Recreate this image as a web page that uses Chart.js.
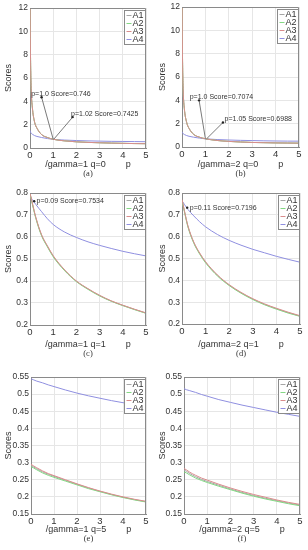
<!DOCTYPE html>
<html>
<head>
<meta charset="utf-8">
<script src="https://cdn.jsdelivr.net/npm/chart.js@4.4.1/dist/chart.umd.min.js"></script>
<style>
  body { margin: 0; background: #fff; }
  #wrap { position: relative; width: 308px; height: 550px; }
  canvas { position: absolute; }
</style>
</head>
<body>
<div id="wrap">
  <canvas id="pa" width="154" height="180" style="left:0;top:0"></canvas>
  <canvas id="pb" width="154" height="180" style="left:154px;top:0"></canvas>
  <canvas id="pc" width="154" height="180" style="left:0;top:180px"></canvas>
  <canvas id="pd" width="154" height="180" style="left:154px;top:180px"></canvas>
  <canvas id="pe" width="154" height="180" style="left:0;top:365px"></canvas>
  <canvas id="pf" width="154" height="180" style="left:154px;top:365px"></canvas>
</div>
<script>
const seriesNames = ['A1', 'A2', 'A3', 'A4'];
const seriesColors = ['#a6a6a6', '#84d884', '#d98c8c', '#8f8fe0'];

// p samples
const pSteep = [0.005, 0.02, 0.05, 0.1, 0.2, 0.3, 0.5, 0.75, 1, 1.5, 2, 2.5, 3, 3.5, 4, 4.5, 5];
const pSmooth = [0, 0.1, 0.25, 0.5, 0.75, 1, 1.5, 2, 2.5, 3, 3.5, 4, 4.5, 5];

// (a) gamma=1 q=0
const aSteep = [12, 8.2, 5.1, 3.5, 2.2, 1.7, 1.15, 0.9, 0.746, 0.61, 0.53, 0.48, 0.45, 0.42, 0.4, 0.38, 0.37];
const aFlat  = [1.5, 1.38, 1.27, 1.18, 1.06, 0.99, 0.9, 0.81, 0.7425, 0.68, 0.64, 0.61, 0.59, 0.57, 0.56, 0.55, 0.54];
// (b) gamma=2 q=0
const bSteep = [12, 8, 4.9, 3.3, 2.1, 1.6, 1.08, 0.84, 0.7074, 0.56, 0.48, 0.43, 0.39, 0.37, 0.35, 0.34, 0.33];
const bFlat  = [1.3, 1.22, 1.14, 1.07, 0.98, 0.92, 0.84, 0.76, 0.6988, 0.64, 0.6, 0.57, 0.55, 0.53, 0.515, 0.505, 0.5];
// (c) gamma=1 q=1
const cA1 = [0.798, 0.753, 0.688, 0.608, 0.558, 0.513, 0.448, 0.399, 0.364, 0.334, 0.309, 0.289, 0.271, 0.254];
const cA2 = [0.795, 0.75, 0.685, 0.605, 0.555, 0.51, 0.446, 0.397, 0.362, 0.332, 0.308, 0.288, 0.27, 0.253];
const cA3 = [0.8, 0.755, 0.69, 0.61, 0.56, 0.515, 0.45, 0.4, 0.365, 0.335, 0.31, 0.29, 0.272, 0.255];
const cA4 = [0.785, 0.77, 0.748, 0.715, 0.683, 0.657, 0.622, 0.598, 0.578, 0.562, 0.548, 0.535, 0.524, 0.514];
// (d) gamma=2 q=1
const dA1 = [0.768, 0.718, 0.648, 0.573, 0.523, 0.483, 0.423, 0.378, 0.343, 0.314, 0.29, 0.27, 0.252, 0.236];
const dA2 = [0.765, 0.715, 0.645, 0.57, 0.52, 0.48, 0.42, 0.376, 0.341, 0.312, 0.288, 0.268, 0.25, 0.235];
const dA3 = [0.77, 0.72, 0.65, 0.575, 0.525, 0.485, 0.425, 0.38, 0.345, 0.316, 0.292, 0.272, 0.254, 0.238];
const dA4 = [0.765, 0.748, 0.725, 0.695, 0.668, 0.645, 0.61, 0.583, 0.561, 0.542, 0.526, 0.51, 0.496, 0.483];
// (e) gamma=1 q=5
const eA1 = [0.292, 0.288, 0.282, 0.273, 0.266, 0.26, 0.248, 0.237, 0.226, 0.216, 0.207, 0.199, 0.192, 0.186];
const eA2 = [0.288, 0.285, 0.279, 0.27, 0.263, 0.257, 0.246, 0.235, 0.224, 0.215, 0.206, 0.198, 0.191, 0.185];
const eA3 = [0.295, 0.291, 0.285, 0.276, 0.268, 0.262, 0.25, 0.238, 0.227, 0.217, 0.208, 0.2, 0.193, 0.187];
const eA4 = [0.545, 0.542, 0.538, 0.533, 0.527, 0.522, 0.512, 0.503, 0.495, 0.488, 0.481, 0.475, 0.47, 0.465];
// (f) gamma=2 q=5
const fA1 = [0.278, 0.275, 0.268, 0.259, 0.251, 0.245, 0.234, 0.223, 0.213, 0.204, 0.196, 0.189, 0.182, 0.176];
const fA2 = [0.273, 0.27, 0.264, 0.255, 0.248, 0.242, 0.231, 0.221, 0.211, 0.202, 0.194, 0.187, 0.18, 0.174];
const fA3 = [0.283, 0.279, 0.272, 0.263, 0.255, 0.249, 0.237, 0.226, 0.216, 0.207, 0.199, 0.191, 0.184, 0.178];
const fA4 = [0.516, 0.513, 0.51, 0.505, 0.499, 0.494, 0.484, 0.476, 0.468, 0.461, 0.454, 0.447, 0.441, 0.435];

const FONT = '"Liberation Sans", Arial, sans-serif';

// box, legend, data tips and caption drawn on top of each panel
const extras = {
  id: 'extras',
  afterDraw(chart, args, opts) {
    const ctx = chart.ctx, a = chart.chartArea;
    const x = chart.scales.x, y = chart.scales.y;
    ctx.save();
    ctx.strokeStyle = '#8a8a8a';
    ctx.lineWidth = 1;
    ctx.beginPath();
    ctx.moveTo(Math.round(a.left), Math.round(a.top) + 0.5);
    ctx.lineTo(Math.round(a.right) - 0.5, Math.round(a.top) + 0.5);
    ctx.lineTo(Math.round(a.right) - 0.5, Math.round(a.bottom));
    ctx.stroke();

    // data tips
    (opts.tips || []).forEach(t => {
      const dx = x.getPixelForValue(t.dot[0]), dy = y.getPixelForValue(t.dot[1]);
      if (t.to) {
        ctx.strokeStyle = '#7a7a7a';
        ctx.beginPath();
        ctx.moveTo(dx, dy);
        ctx.lineTo(x.getPixelForValue(t.to[0]), y.getPixelForValue(t.to[1]));
        ctx.stroke();
      }
      ctx.fillStyle = '#222';
      ctx.beginPath();
      ctx.arc(dx, dy, 1.2, 0, Math.PI * 2);
      ctx.fill();
      ctx.font = '7px ' + FONT;
      ctx.textBaseline = 'middle';
      ctx.textAlign = 'left';
      ctx.fillStyle = '#333';
      ctx.fillText(t.text, x.getPixelForValue(t.at[0]), y.getPixelForValue(t.at[1]));
    });

    // legend
    const bw = 21, bh = 34;
    const bx = Math.round(a.right) - bw - 0.5, by = Math.round(a.top) + 2.5;
    ctx.fillStyle = '#fff';
    ctx.fillRect(bx, by, bw, bh);
    ctx.strokeStyle = '#8a8a8a';
    ctx.strokeRect(bx, by, bw, bh);
    ctx.font = '9px ' + FONT;
    ctx.textBaseline = 'middle';
    chart.data.datasets.forEach((ds, i) => {
      const ly = by + 5 + i * 8;
      ctx.strokeStyle = ds.borderColor;
      ctx.beginPath();
      ctx.moveTo(bx + 2, ly);
      ctx.lineTo(bx + 7, ly);
      ctx.stroke();
      ctx.fillStyle = '#333';
      ctx.fillText(ds.label, bx + 8, ly);
    });

    // caption
    ctx.font = '8.5px "Liberation Serif", serif';
    ctx.textAlign = 'center';
    ctx.fillStyle = '#333';
    ctx.fillText(opts.caption, (a.left + a.right) / 2, 173.5);
    ctx.restore();
  }
};

function makePanel(id, p, series, cfg) {
  const datasets = series.map((vals, i) => ({
    label: seriesNames[i],
    data: p.map((v, k) => ({ x: v, y: vals[k] })),
    borderColor: seriesColors[i],
    borderWidth: 1,
    pointRadius: 0,
    order: [3, 2, 1, 4][i],
    cubicInterpolationMode: 'monotone',
    fill: false
  }));
  new Chart(document.getElementById(id), {
    type: 'line',
    data: { datasets: datasets },
    plugins: [extras],
    options: {
      responsive: false,
      animation: false,
      layout: { padding: { top: cfg.top, right: 154 - cfg.right, left: 0, bottom: 0 } },
      plugins: {
        legend: { display: false },
        tooltip: { enabled: false },
        extras: { tips: cfg.tips, caption: cfg.caption }
      },
      scales: {
        x: {
          type: 'linear', min: 0, max: 5,
          ticks: { stepSize: 1, padding: 2, color: '#333', font: { size: 9.5, family: FONT }, maxRotation: 0 },
          grid: { color: '#e6e6e6', drawTicks: false },
          border: { color: '#8a8a8a' },
          title: { display: true, text: cfg.xlabel, color: '#333', font: { size: 9, family: FONT }, padding: { top: 0, bottom: 10 } },
          afterFit(s) { s.height = 180 - cfg.bottom; }
        },
        y: {
          min: cfg.yMin, max: cfg.yMax,
          ticks: {
            stepSize: cfg.yStep, padding: 2, color: '#333', font: { size: 8.5, family: FONT },
            callback: v => String(+v.toFixed(2))
          },
          grid: { color: '#e6e6e6', drawTicks: false },
          border: { color: '#8a8a8a' },
          title: { display: true, text: 'Scores', color: '#333', font: { size: 9, family: FONT }, padding: { top: 3, bottom: 0 } },
          afterFit(s) { s.width = cfg.left; }
        }
      }
    }
  });
}

makePanel('pa', pSteep, [aSteep, aSteep, aSteep, aFlat], {
  left: 30, right: 146, top: 8, bottom: 148, yMin: 0, yMax: 12, yStep: 2,
  xlabel: '/gamma=1 q=0        p', caption: '(a)',
  tips: [
    { dot: [0.5, 4.35], at: [0.05, 4.6], to: [1, 0.75], text: 'p=1.0 Score=0.746' },
    { dot: [1.84, 2.65], at: [1.77, 2.95], to: [1.02, 0.74], text: 'p=1.02 Score=0.7425' }
  ]
});
makePanel('pb', pSteep, [bSteep, bSteep, bSteep, bFlat], {
  left: 28, right: 145, top: 7, bottom: 147, yMin: 0, yMax: 12, yStep: 2,
  xlabel: '/gamma=2 q=0        p', caption: '(b)',
  tips: [
    { dot: [0.73, 4.0], at: [0.33, 4.3], to: [1, 0.71], text: 'p=1.0 Score=0.7074' },
    { dot: [1.75, 2.1], at: [1.82, 2.4], to: [1.05, 0.7], text: 'p=1.05 Score=0.6988' }
  ]
});
makePanel('pc', pSmooth, [cA1, cA2, cA3, cA4], {
  left: 30, right: 146, top: 13, bottom: 145, yMin: 0.2, yMax: 0.8, yStep: 0.1,
  xlabel: '/gamma=1 q=1        p', caption: '(c)',
  tips: [{ dot: [0.18, 0.763], at: [0.28, 0.763], text: 'p=0.09 Score=0.7534' }]
});
makePanel('pd', pSmooth, [dA1, dA2, dA3, dA4], {
  left: 28, right: 146, top: 13, bottom: 144, yMin: 0.2, yMax: 0.8, yStep: 0.1,
  xlabel: '/gamma=2 q=1        p', caption: '(d)',
  tips: [{ dot: [0.22, 0.733], at: [0.33, 0.733], text: 'p=0.11 Score=0.7196' }]
});
makePanel('pe', pSmooth, [eA1, eA2, eA3, eA4], {
  left: 31, right: 146, top: 12, bottom: 149, yMin: 0.15, yMax: 0.55, yStep: 0.05,
  xlabel: '/gamma=1 q=5        p', caption: '(e)', tips: []
});
makePanel('pf', pSmooth, [fA1, fA2, fA3, fA4], {
  left: 30, right: 146, top: 12, bottom: 149, yMin: 0.15, yMax: 0.55, yStep: 0.05,
  xlabel: '/gamma=2 q=5        p', caption: '(f)', tips: []
});
</script>
</body>
</html>
